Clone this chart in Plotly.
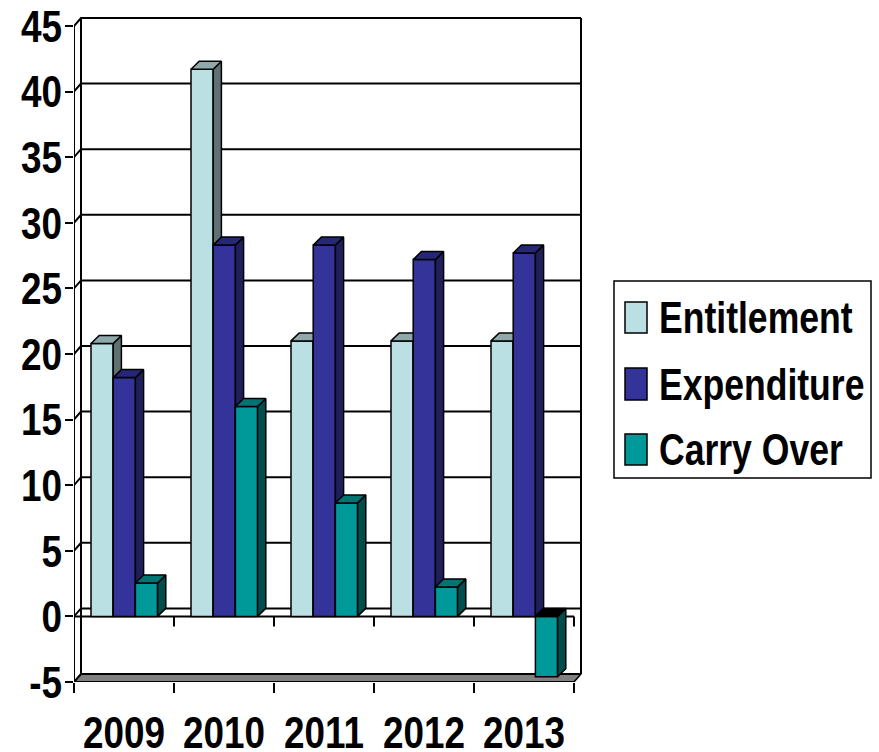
import plotly.graph_objects as go

years = ["2009", "2010", "2011", "2012", "2013"]
series_names = ["Entitlement", "Expenditure", "Carry Over"]
entitlement = [20.8, 41.7, 21.0, 21.0, 21.0]
expenditure = [18.2, 28.3, 28.3, 27.2, 27.7]
carry_over = [2.55, 16.0, 8.65, 2.25, -4.6]
y_ticks = [-5, 0, 5, 10, 15, 20, 25, 30, 35, 40, 45]

front_colors = ["#BBE0E3", "#333399", "#009999"]
side_colors = ["#5F7173", "#1F1F5C", "#004D4D"]
top_colors = ["#8FA8AA", "#26267A", "#007373"]

W, H = 879, 752
ML, MR, MT, MB = 74, 285, 10, 70
PW, PH = W - ML - MR, H - MT - MB
U_PER_PX_X = 1 / 100
U_PER_PX_Y = 1 / 13.12
X_RANGE = [0, PW * U_PER_PX_X]
Y_RANGE = [-5, -5 + PH * U_PER_PX_Y]
WALL_DX, WALL_DY = 7 * U_PER_PX_X, 8 * U_PER_PX_Y
BAR_DX, BAR_DY = 8.2 * U_PER_PX_X, 8 * U_PER_PX_Y
BAR_W = 0.222
BOLD = dict(family="Liberation Sans", size=45, color="black", weight=700)
n = len(years)
centers = [i + 0.5 for i in range(n)]


def add_path(fig, xs, ys, axis=("x", "y"), width=2, color="black"):
    fig.add_trace(go.Scatter(x=xs, y=ys, mode="lines", xaxis=axis[0], yaxis=axis[1],
                             line=dict(color=color, width=width), cliponaxis=False,
                             showlegend=False, hoverinfo="skip"))


def add_poly(fig, xs, ys, fill, axis):
    fig.add_trace(go.Scatter(x=xs, y=ys, mode="lines", fill="toself", fillcolor=fill,
                             xaxis=axis[0], yaxis=axis[1], cliponaxis=False,
                             line=dict(color="black", width=1.5),
                             showlegend=False, hoverinfo="skip"))


fig = go.Figure()

# walls, floor and gridlines
ymin, ymax = y_ticks[0], y_ticks[-1]
xmax = float(n)
add_poly(fig, [0, xmax, xmax + WALL_DX, WALL_DX, 0],
         [ymin, ymin, ymin + WALL_DY, ymin + WALL_DY, ymin], "#808080", ("x", "y"))
gx, gy = [], []
for t in y_ticks:
    gx += [0, WALL_DX, xmax + WALL_DX, None]
    gy += [t, t + WALL_DY, t + WALL_DY, None]
add_path(fig, gx, gy)
add_path(fig, [WALL_DX, WALL_DX], [ymin + WALL_DY, ymax + WALL_DY])
add_path(fig, [xmax + WALL_DX, xmax + WALL_DX], [ymin + WALL_DY, ymax + WALL_DY])
# axis at zero with its ticks
zx, zy = [0, xmax, None], [0, 0, None]
for i in range(n + 1):
    zx += [i, i, None]
    zy += [0, -10 * U_PER_PX_Y, None]
add_path(fig, zx, zy)
# front edges of the chart box
add_path(fig, [0, 0], [ymin, ymax])
add_path(fig, [0, xmax], [ymin, ymin])

# one overlay per series so each front covers the previous series' depth faces
for s, (name, vals) in enumerate(zip(series_names, [entitlement, expenditure, carry_over])):
    ax = (f"x{s + 2}", f"y{s + 2}")
    offset = -0.33 + s * BAR_W
    fig.add_trace(go.Bar(x=centers, y=vals, width=BAR_W, offset=offset, name=name,
                         xaxis=ax[0], yaxis=ax[1], showlegend=False,
                         marker=dict(color=front_colors[s], line=dict(color="black", width=1.5))))
    for c, v in zip(centers, vals):
        x0, x1 = c + offset, c + offset + BAR_W
        add_poly(fig, [x1, x1 + BAR_DX, x1 + BAR_DX, x1, x1],
                 [0, BAR_DY, v + BAR_DY, v, 0], side_colors[s], ax)
        top = max(v, 0)
        add_poly(fig, [x0, x1, x1 + BAR_DX, x0 + BAR_DX, x0],
                 [top, top, top + BAR_DY, top + BAR_DY, top],
                 top_colors[s] if v >= 0 else "black", ax)


def px(x):
    return (x - ML) / PW


def py(y):
    return 1 - (y - MT) / PH


# legend
shapes = [dict(type="rect", xref="paper", yref="paper", x0=px(614), x1=px(871), y0=py(281), y1=py(478),
               line=dict(color="black", width=1.5), fillcolor="white")]
annotations = []
for name, color, y0, y1 in zip(series_names, front_colors, [302, 368, 434], [333, 400, 465]):
    shapes.append(dict(type="rect", xref="paper", yref="paper", x0=px(625), x1=px(647), y0=py(y0), y1=py(y1),
                       line=dict(color="black", width=1.5), fillcolor=color))
    annotations.append(dict(text=name, xref="paper", yref="paper", x=px(657), y=py((y0 + y1) / 2),
                            xanchor="left", yanchor="middle", showarrow=False, font=BOLD))

layout = dict(
    width=W, height=H, margin=dict(l=ML, r=MR, t=MT, b=MB, pad=0),
    paper_bgcolor="white", plot_bgcolor="white", barmode="overlay", showlegend=False,
    shapes=shapes, annotations=annotations,
    xaxis=dict(range=X_RANGE, tickmode="array", tickvals=centers, ticktext=years, automargin=False,
               ticks="", showgrid=False, zeroline=False, tickfont=BOLD, ticklabelstandoff=20,
               showline=False, tickangle=0,
               minor=dict(ticks="outside", ticklen=10, tickwidth=2, tickcolor="black",
                          tickvals=list(range(n + 1)), showgrid=False)),
    yaxis=dict(range=Y_RANGE, tickmode="array", tickvals=y_ticks, ticktext=[str(t) for t in y_ticks],
               ticks="outside", ticklen=8, automargin=False, ticklabelstandoff=-6,
               tickwidth=2, tickcolor="black", showgrid=False, zeroline=False,
               showline=False, tickfont=BOLD),
)
for s in range(3):
    layout[f"xaxis{s + 2}"] = dict(range=X_RANGE, overlaying="x", visible=False)
    layout[f"yaxis{s + 2}"] = dict(range=Y_RANGE, overlaying="y", visible=False)
fig.update_layout(**layout)

# page without margin; narrow the bold sans to the reference's condensed letterforms
POST = """
document.body.style.margin = '0';
document.body.style.overflow = 'hidden';
document.querySelectorAll('.xtick text, .ytick text, .annotation-text').forEach(function (t) {
  var b = t.getBBox();
  var anc = t.getAttribute('text-anchor');
  var isAnn = t.classList.contains('annotation-text');
  var k = isAnn ? 0.79 : 0.82;
  var p = isAnn ? b.x : (anc === 'end' ? b.x + b.width : b.x + b.width / 2);
  var old = t.getAttribute('transform') || '';
  t.setAttribute('transform', old + ' translate(' + p + ',0) scale(' + k + ',1) translate(' + (-p) + ',0)');
});
"""
fig.write_html("out.html", post_script=POST, config={"displayModeBar": False})
